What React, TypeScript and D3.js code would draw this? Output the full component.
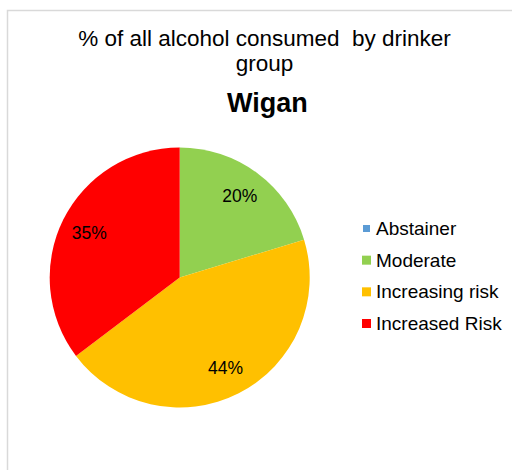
import * as d3 from "d3";
import React from "react";

// drinker groups and share of all alcohol consumed (%)
const groups = ["Abstainer", "Moderate", "Increasing risk", "Increased Risk"];
const shares = [0, 20.3, 44.4, 35.3];
const colours = ["#5b9bd5", "#92d050", "#ffc000", "#ff0000"];
const titleLines = ["% of all alcohol consumed  by drinker", "group"];
const subTitle = "Wigan";

const W = 512;
const H = 470;
const cx = 179.7;
const cy = 277.5;
const radius = 130;

export default function App() {
  const data = groups.map((g, i) => ({ group: g, value: shares[i], colour: colours[i] }));

  const pie = d3
    .pie<any>()
    .sort(null)
    .value((d) => d.value);
  const arcs = pie(data);

  const arc = d3.arc<any>().innerRadius(0).outerRadius(radius);
  const labelArc = d3.arc<any>().innerRadius(101).outerRadius(101);

  const legendY = d3
    .scaleLinear()
    .domain([0, groups.length - 1])
    .range([235, 330]);

  return (
    <svg
      width={W}
      height={H}
      style={{ position: "absolute", left: 0, top: 0, fontFamily: "'Liberation Sans', Arial, sans-serif" }}
    >
      <rect x={0} y={0} width={W} height={H} fill="#fff" />
      <rect x={7.5} y={10.5} width={W + 20} height={H + 20} fill="#fff" stroke="#d9d9d9" strokeWidth={1.5} />

      {titleLines.map((t, i) => (
        <text
          key={t}
          x={264.5}
          y={46 + i * 25}
          textAnchor="middle"
          fontSize={22.5}
          fill="#000"
          style={{ whiteSpace: "pre" }}
        >
          {t}
        </text>
      ))}
      <text x={267.3} y={111.5} textAnchor="middle" fontSize={27} fontWeight="bold" fill="#000">
        {subTitle}
      </text>

      <g transform={`translate(${cx},${cy})`}>
        {arcs.map((a) => (
          <path key={a.data.group} d={arc(a) || ""} fill={a.data.colour} />
        ))}
        {arcs
          .filter((a) => a.data.value > 0)
          .map((a) => {
            const [lx, ly] = labelArc.centroid(a);
            return (
              <text
                key={a.data.group}
                x={lx}
                y={ly}
                dy="0.35em"
                textAnchor="middle"
                fontSize={17.5}
                fill="#000"
              >
                {Math.round(a.data.value) + "%"}
              </text>
            );
          })}
      </g>

      <g>
        {data.map((d, i) => {
          const s = d.value > 0 ? 9 : 7;
          return (
            <g key={d.group}>
              <rect x={366.5 - s / 2} y={legendY(i) - 6.5 - s / 2} width={s} height={s} fill={d.colour} />
              <text x={376} y={legendY(i)} fontSize={19} fill="#000">
                {d.group}
              </text>
            </g>
          );
        })}
      </g>
    </svg>
  );
}
